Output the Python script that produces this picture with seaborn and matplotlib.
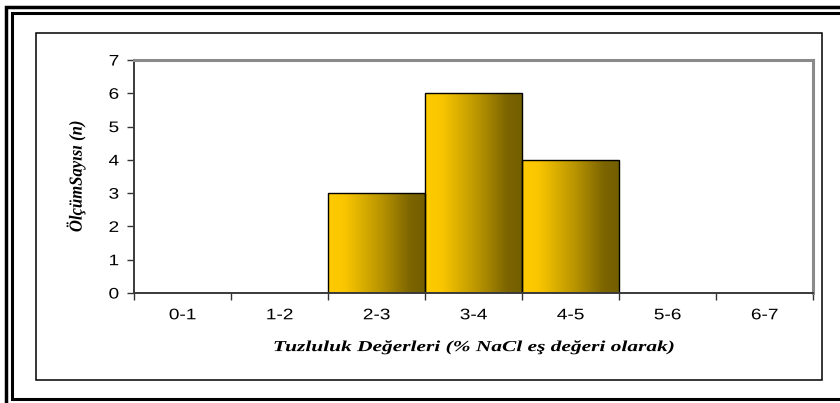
import numpy as np
import matplotlib
matplotlib.use("Agg")
import matplotlib.pyplot as plt
from matplotlib.colors import LinearSegmentedColormap
from matplotlib.patches import Rectangle
from matplotlib.lines import Line2D
from matplotlib.patheffects import AbstractPathEffect
from matplotlib.transforms import Affine2D
import seaborn as sns

# Salinity classes (% NaCl equivalent) and number of measurements
categories = ["0-1", "1-2", "2-3", "3-4", "4-5", "5-6", "6-7"]
counts = [0, 0, 3, 6, 4, 0, 0]
y_ticks = [0, 1, 2, 3, 4, 5, 6, 7]

x_title = "Tuzluluk Değerleri (% NaCl eş değeri olarak)"
y_title = "ÖlçümSayısı (n)"


class Stretch(AbstractPathEffect):
    """Draw text glyphs scaled about their own centre (wide/condensed text)."""

    def __init__(self, sx=1.0, sy=1.0):
        super().__init__()
        self.sx, self.sy = sx, sy

    def draw_path(self, renderer, gc, tpath, affine, rgbFace=None):
        v = tpath.vertices
        cx = cy = 0.0
        if len(v):
            cx = (v[:, 0].min() + v[:, 0].max()) / 2
            cy = (v[:, 1].min() + v[:, 1].max()) / 2
        t = (Affine2D().translate(-cx, -cy).scale(self.sx, self.sy)
             .translate(cx, cy) + affine)
        renderer.draw_path(gc, tpath, t, rgbFace)


sns.set_theme(style="white")
plt.rcParams["font.family"] = ["Liberation Sans", "DejaVu Sans"]

W, H = 840, 403
fig = plt.figure(figsize=(W / 100, H / 100), dpi=100)
fig.patch.set_facecolor("white")


# Page-style frames around the chart (figure pixel coordinates)
def px_line(xs, ys, lw, color="black"):
    fig.add_artist(Line2D([x / W for x in xs], [1 - y / H for y in ys],
                          lw=lw, color=color, transform=fig.transFigure,
                          solid_capstyle="butt", solid_joinstyle="miter"))


px_line([6, 6, 860], [410, 7, 7], 2.5)
px_line([860, 11.5, 11.5, 860], [399, 399, 13, 13], 2.2)
fig.add_artist(Rectangle((36 / W, 1 - 380 / H), (822 - 36) / W, (380 - 33) / H,
                         transform=fig.transFigure, fill=False,
                         edgecolor="black", lw=1.1))

left, right, top, bottom = 134, 813, 60, 293
ax = fig.add_axes([left / W, 1 - bottom / H, (right - left) / W, (bottom - top) / H])

sns.barplot(x=categories, y=counts, ax=ax, width=1.0, color="#FFCC00",
            edgecolor="black", linewidth=1.0, saturation=1.0)

# Horizontal gold-to-olive gradient inside each bar
cmap = LinearSegmentedColormap.from_list(
    "gold", [(0.0, "#FFCC00"), (0.18, "#F8C500"), (0.55, "#B89400"),
             (0.85, "#7C6400"), (1.0, "#735F00")])
grad = np.linspace(0, 1, 256).reshape(1, -1)
for patch in ax.patches:
    h = patch.get_height()
    if h <= 0:
        continue
    x0 = patch.get_x()
    x1 = x0 + patch.get_width()
    im = ax.imshow(grad, cmap=cmap, extent=[x0, x1, 0, h], aspect="auto",
                   interpolation="bilinear", zorder=patch.get_zorder() - 0.1)
    im.set_clip_path(patch)
    patch.set_facecolor("none")

ax.set_xlim(-0.5, len(categories) - 0.5)
ax.set_ylim(0, 7)
ax.set_yticks(y_ticks)
ax.set_yticklabels([str(v) for v in y_ticks])
ax.set_xticks(range(len(categories)))
ax.set_xticklabels(categories)
ax.set_xticks(np.arange(-0.5, len(categories)), minor=True)

ax.tick_params(axis="x", which="major", length=0, pad=11, labelsize=11,
               labelcolor="black")
ax.tick_params(axis="x", which="minor", length=5, width=1, color="#333333",
               direction="out", bottom=True)
ax.tick_params(axis="y", which="major", length=5, width=1, color="#333333",
               direction="out", left=True, pad=6.5, labelsize=11,
               labelcolor="black")

for lab in ax.get_xticklabels() + ax.get_yticklabels():
    lab.set_path_effects([Stretch(sx=1.25)])

for side in ("left", "bottom"):
    ax.spines[side].set_color("#3a3a3a")
    ax.spines[side].set_linewidth(1.4)
for side in ("top", "right"):
    ax.spines[side].set_color("#8a8a8a")
    ax.spines[side].set_linewidth(2.2)
ax.set_facecolor("white")
ax.grid(False)

ax.set_xlabel(x_title, family=["Liberation Serif", "DejaVu Serif"],
              fontsize=11, fontweight="bold", style="italic", color="black",
              path_effects=[Stretch(sx=1.4)])
ax.xaxis.set_label_coords(0.5, -0.205)
ax.set_ylabel(y_title, family=["Liberation Serif", "DejaVu Serif"],
              fontsize=12, fontweight="bold", style="italic", color="black",
              path_effects=[Stretch(sy=1.1)])
ax.yaxis.set_label_coords(-0.072, 0.5)

fig.savefig("out.png", dpi=100, facecolor="white")
